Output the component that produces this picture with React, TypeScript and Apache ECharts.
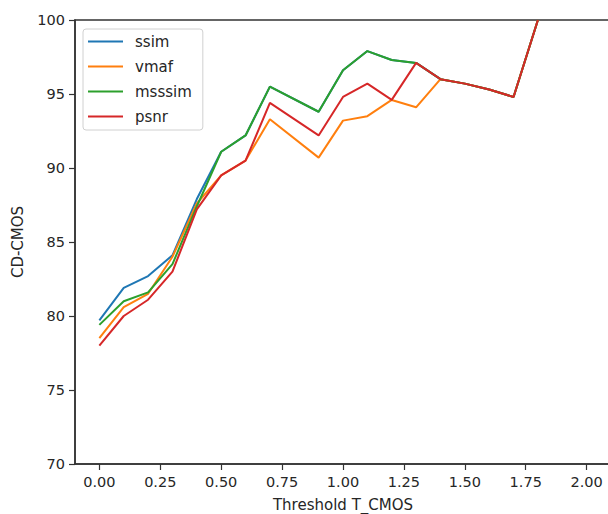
import React, { useEffect, useRef } from "react";
import * as echarts from "echarts";

const THRESHOLDS = [0, 0.1, 0.2, 0.3, 0.4, 0.5, 0.6, 0.7, 0.9, 1.0, 1.1, 1.2, 1.3, 1.4, 1.5, 1.6, 1.7, 1.8];
const SSIM = [79.7, 81.9, 82.7, 84.1, 87.9, 91.1, 92.2, 95.5, 93.8, 96.6, 97.9, 97.3, 97.1, 96.0, 95.7, 95.3, 94.8, 100];
const VMAF = [78.5, 80.6, 81.5, 84.0, 87.6, 89.5, 90.5, 93.3, 90.7, 93.2, 93.5, 94.6, 94.1, 96.0, 95.7, 95.3, 94.8, 100];
const MSSSIM = [79.4, 81.0, 81.6, 83.5, 87.4, 91.1, 92.2, 95.5, 93.8, 96.6, 97.9, 97.3, 97.1, 96.0, 95.7, 95.3, 94.8, 100];
const PSNR = [78.0, 80.0, 81.1, 83.0, 87.2, 89.5, 90.5, 94.4, 92.2, 94.8, 95.7, 94.6, 97.1, 96.0, 95.7, 95.3, 94.8, 100];
const X_TICKS = [0, 0.25, 0.5, 0.75, 1.0, 1.25, 1.5, 1.75, 2.0];

const SERIES = [
  { name: "ssim", values: SSIM, color: "#1f77b4" },
  { name: "vmaf", values: VMAF, color: "#ff7f0e" },
  { name: "msssim", values: MSSSIM, color: "#2ca02c" },
  { name: "psnr", values: PSNR, color: "#d62728" },
];

const FONT = "DejaVu Sans";
const TEXT = "#262626";
const AXIS = "#333333";

export default function App() {
  const ref = useRef<HTMLDivElement>(null);
  useEffect(() => {
    if (!ref.current) return;
    const chart = echarts.init(ref.current, undefined, { renderer: "svg" });
    chart.setOption({
      animation: false,
      backgroundColor: "#ffffff",
      grid: {
        left: 75,
        right: -3,
        top: 20,
        bottom: 50,
        containLabel: false,
        outerBoundsMode: "none",
        show: true,
        borderColor: AXIS,
        borderWidth: 1.5,
        backgroundColor: "transparent",
      },
      legend: {
        orient: "vertical",
        left: 83,
        top: 29,
        itemWidth: 35,
        itemHeight: 14,
        itemGap: 10,
        itemStyle: { opacity: 0 },
        padding: [5, 11, 6, 4],
        backgroundColor: "#ffffff",
        borderColor: "#d0d0d0",
        borderWidth: 1,
        borderRadius: 3,
        textStyle: { fontFamily: FONT, fontSize: 15, color: TEXT, padding: [0, 0, 0, 7] },
        data: SERIES.map((s) => s.name),
      },
      xAxis: {
        type: "value",
        min: -0.1,
        max: 2.1,
        name: "Threshold T_CMOS",
        nameLocation: "middle",
        nameGap: 33,
        nameTextStyle: { fontFamily: FONT, fontSize: 15, color: TEXT },
        axisLine: { show: true, onZero: false, lineStyle: { color: AXIS, width: 1.5 } },
        axisTick: { show: true, inside: false, length: 6, customValues: X_TICKS, lineStyle: { color: AXIS, width: 1.2 } },
        axisLabel: {
          customValues: X_TICKS,
          margin: 10,
          fontFamily: FONT,
          fontSize: 14.5,
          color: TEXT,
          formatter: (v: number) => v.toFixed(2),
        },
        splitLine: { show: false },
      },
      yAxis: {
        type: "value",
        min: 70,
        max: 100,
        interval: 5,
        name: "CD-CMOS",
        nameLocation: "middle",
        nameGap: 50,
        nameTextStyle: { fontFamily: FONT, fontSize: 15, color: TEXT },
        axisLine: { show: true, onZero: false, lineStyle: { color: AXIS, width: 1.5 } },
        axisTick: { show: true, inside: false, length: 6, lineStyle: { color: AXIS, width: 1.2 } },
        axisLabel: { margin: 10, fontFamily: FONT, fontSize: 14.5, color: TEXT },
        splitLine: { show: false },
      },
      series: SERIES.map((s) => ({
        name: s.name,
        type: "line",
        symbol: "none",
        clip: true,
        color: s.color,
        lineStyle: { color: s.color, width: 2 },
        data: THRESHOLDS.map((x, i) => [x, s.values[i]]),
      })),
    });
    return () => chart.dispose();
  }, []);
  return (
    <div
      ref={ref}
      style={{ position: "fixed", left: 0, top: 0, width: 608, height: 514, background: "#fff" }}
    />
  );
}
